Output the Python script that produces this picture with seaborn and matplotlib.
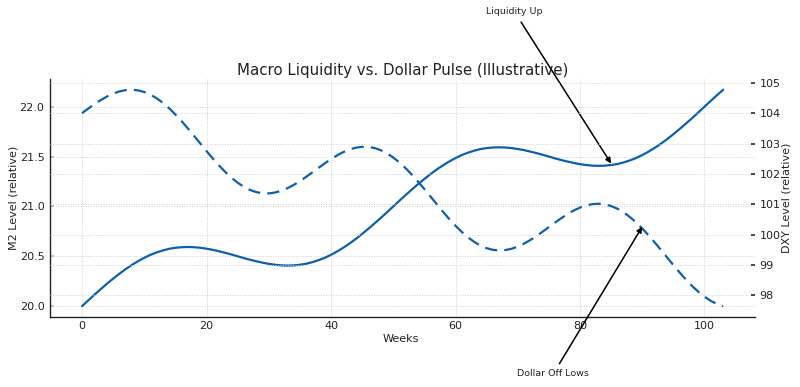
import matplotlib
matplotlib.use("Agg")
import matplotlib.pyplot as plt
import seaborn as sns
import pandas as pd

weeks = list(range(104))

m2_level = [
    20.000, 20.058, 20.115, 20.170, 20.225, 20.276, 20.325, 20.371, 20.413, 20.451,
    20.485, 20.515, 20.539, 20.559, 20.575, 20.585, 20.591, 20.593, 20.591, 20.585,
    20.576, 20.565, 20.550, 20.535, 20.518, 20.500, 20.482, 20.465, 20.450, 20.436,
    20.424, 20.415, 20.409, 20.407, 20.409, 20.415, 20.425, 20.441, 20.461, 20.485,
    20.515, 20.549, 20.587, 20.629, 20.675, 20.724, 20.776, 20.830, 20.885, 20.942,
    21.000, 21.058, 21.115, 21.170, 21.225, 21.276, 21.325, 21.371, 21.413, 21.451,
    21.485, 21.515, 21.539, 21.559, 21.575, 21.585, 21.591, 21.593, 21.591, 21.585,
    21.576, 21.565, 21.550, 21.535, 21.518, 21.500, 21.482, 21.465, 21.450, 21.436,
    21.424, 21.415, 21.409, 21.407, 21.409, 21.415, 21.425, 21.441, 21.461, 21.485,
    21.515, 21.549, 21.587, 21.629, 21.675, 21.724, 21.776, 21.830, 21.885, 21.942,
    22.000, 22.058, 22.115, 22.170,
]

dxy_level = [
    104.000, 104.150, 104.295, 104.428, 104.545, 104.642, 104.713, 104.756, 104.768, 104.748,
    104.693, 104.606, 104.486, 104.335, 104.157, 103.955, 103.734, 103.497, 103.250, 103.000,
    102.750, 102.508, 102.278, 102.066, 101.875, 101.711, 101.575, 101.471, 101.400, 101.363,
    101.359, 101.387, 101.444, 101.529, 101.636, 101.762, 101.902, 102.050, 102.200, 102.348,
    102.488, 102.614, 102.721, 102.806, 102.863, 102.891, 102.887, 102.850, 102.779, 102.675,
    102.539, 102.375, 102.184, 101.972, 101.742, 101.500, 101.250, 101.000, 100.753, 100.516,
    100.295, 100.093, 99.915, 99.764, 99.644, 99.557, 99.502, 99.482, 99.494, 99.537,
    99.608, 99.705, 99.822, 99.955, 100.100, 100.250, 100.400, 100.545, 100.678, 100.795,
    100.892, 100.963, 101.006, 101.018, 100.998, 100.943, 100.856, 100.736, 100.585, 100.407,
    100.205, 99.984, 99.747, 99.500, 99.250, 99.000, 98.758, 98.528, 98.316, 98.125,
    97.961, 97.825, 97.721, 97.650,
]

title = "Macro Liquidity vs. Dollar Pulse (Illustrative)"
x_label = "Weeks"
m2_label = "M2 Level (relative)"
dxy_label = "DXY Level (relative)"
note_m2 = "Liquidity Up"
note_dxy = "Dollar Off Lows"

sns.set_theme(style="white")
plt.rcParams["font.family"] = ["DejaVu Sans"]

df = pd.DataFrame({"week": weeks, "m2": m2_level, "dxy": dxy_level})
color = "#0b60ae"

fig = plt.figure(figsize=(8.0, 3.87), dpi=100)
ax1 = fig.add_axes([0.0625, 0.181, 0.8815, 0.615])
ax2 = ax1.twinx()

sns.lineplot(data=df, x="week", y="m2", ax=ax1, color=color, linewidth=1.6)
sns.lineplot(data=df, x="week", y="dxy", ax=ax2, color=color, linewidth=1.6,
             linestyle=(0, (5.5, 3.2)))

grid_kw = dict(color="#cfcfcf", linestyle=(0, (1.0, 1.6)), linewidth=0.7)
ax1.grid(True, axis="both", **grid_kw)
ax2.grid(True, axis="y", **grid_kw)
ax1.set_axisbelow(True)

for sp in ["top", "right"]:
    ax1.spines[sp].set_visible(False)
for sp in ["top", "right", "left", "bottom"]:
    ax2.spines[sp].set_visible(False)
ax1.spines["left"].set_color("#222222")
ax1.spines["bottom"].set_color("#222222")
ax1.spines["left"].set_linewidth(1.0)
ax1.spines["bottom"].set_linewidth(1.0)

ax1.set_yticks([20.0, 20.5, 21.0, 21.5, 22.0])
ax1.set_yticklabels(["20.0", "20.5", "21.0", "21.5", "22.0"])
ax1.set_xticks([0, 20, 40, 60, 80, 100])
ax2.set_yticks([98, 99, 100, 101, 102, 103, 104, 105])

ax1.tick_params(axis="y", direction="in", length=3, color="#bbbbbb",
                labelsize=8, pad=4, labelcolor="#222222")
ax1.tick_params(axis="x", direction="in", length=3, color="#bbbbbb",
                labelsize=8, pad=3, labelcolor="#222222")
ax2.tick_params(axis="y", direction="in", length=3, color="#333333",
                labelsize=8, pad=3, labelcolor="#222222")

ax1.set_xlabel(x_label, fontsize=8, color="#222222")
ax1.set_ylabel(m2_label, fontsize=8, color="#222222")
ax2.set_ylabel(dxy_label, fontsize=8, color="#222222")
ax1.xaxis.set_label_coords(0.497, -0.073)
ax1.yaxis.set_label_coords(-0.045, 0.5)
ax2.yaxis.set_label_coords(1.038, 0.5)
ax1.set_title(title, fontsize=10.8, color="#222222", pad=2.5)

arrow_kw = dict(arrowstyle="-|>", color="black", lw=1.1, mutation_scale=8,
                shrinkA=2, shrinkB=0)
ax1.annotate(note_m2, xy=(85, 21.43), xytext=(69.5, 22.95),
             textcoords="data", ha="center", va="center", fontsize=6.8,
             color="#222222", arrowprops=arrow_kw, annotation_clip=False)
ax2.annotate(note_dxy, xy=(90, 100.26), xytext=(75.7, 95.42),
             textcoords="data", ha="center", va="center", fontsize=6.8,
             color="#222222", arrowprops=arrow_kw, annotation_clip=False)

fig.savefig("out.png", dpi=100)
